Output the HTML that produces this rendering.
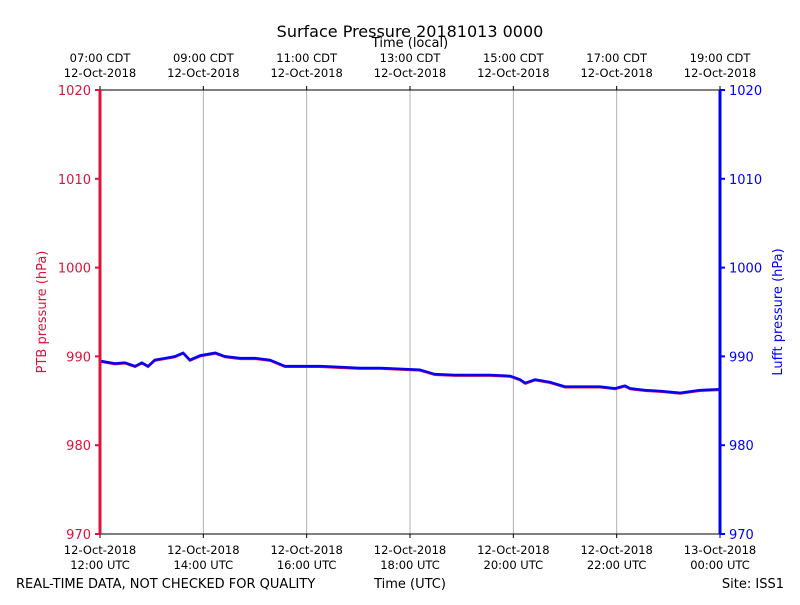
<!DOCTYPE html>
<html><head><meta charset="utf-8"><style>body{margin:0;background:#fff}svg text{font-family:"DejaVu Sans","Liberation Sans",sans-serif}</style></head>
<body>
<svg id="chart" width="800" height="600">
<text x="410" y="37" font-size="16" text-anchor="middle">Surface Pressure 20181013 0000</text>
<text x="410" y="47" font-size="13" text-anchor="middle">Time (local)</text>
<text x="16" y="588" font-size="13">REAL-TIME DATA, NOT CHECKED FOR QUALITY</text>
<text x="410" y="588" font-size="13" text-anchor="middle">Time (UTC)</text>
<text x="784" y="588" font-size="13" text-anchor="end">Site: ISS1</text>
<text transform="translate(46,312) rotate(-90)" font-size="13" fill="#dc143c" text-anchor="middle">PTB pressure (hPa)</text>
<text transform="translate(782,312) rotate(-90)" font-size="13" fill="#0000ff" text-anchor="middle">Lufft pressure (hPa)</text>
<g id="grid"></g><g id="ticks"></g><g id="series"></g>
<line x1="100" y1="90" x2="720" y2="90" stroke="#000"/>
<line x1="100" y1="534" x2="720" y2="534" stroke="#000"/>
<line x1="100" y1="90" x2="100" y2="534" stroke="#dc143c" stroke-width="3"/>
<line x1="720" y1="90" x2="720" y2="534" stroke="#0000ff" stroke-width="3"/>
</svg>
<script>
const hours=[0,.29,.48,.68,.81,.93,1.06,1.26,1.45,1.61,1.74,1.94,2.23,2.42,2.71,3.0,3.29,3.58,3.87,4.26,4.64,5.03,5.42,5.81,6.19,6.48,6.87,7.16,7.55,7.94,8.13,8.23,8.42,8.71,9.0,9.29,9.68,9.97,10.16,10.26,10.55,10.84,11.23,11.61,12];
const lufft=[989.5,989.2,989.3,988.9,989.3,988.9,989.6,989.8,990.0,990.4,989.6,990.1,990.4,990.0,989.8,989.8,989.6,988.9,988.9,988.9,988.8,988.7,988.7,988.6,988.5,988.0,987.9,987.9,987.9,987.8,987.4,987.0,987.4,987.1,986.6,986.6,986.6,986.4,986.7,986.4,986.2,986.1,985.9,986.2,986.3];
const ptb=[989.4,989.1,989.2,988.8,989.2,988.8,989.5,989.7,989.9,990.3,989.5,990.0,990.3,989.9,989.7,989.7,989.5,988.8,988.8,988.8,988.7,988.6,988.6,988.5,988.4,987.9,987.8,987.8,987.8,987.7,987.3,986.9,987.3,987.0,986.5,986.5,986.5,986.3,986.6,986.3,986.1,986.0,985.8,986.1,986.2];
const yTicks=[970,980,990,1000,1010,1020];
const tickHours=[0,2,4,6,8,10,12];
const utcLabels=["12:00 UTC","14:00 UTC","16:00 UTC","18:00 UTC","20:00 UTC","22:00 UTC","00:00 UTC"];
const utcDates=["12-Oct-2018","12-Oct-2018","12-Oct-2018","12-Oct-2018","12-Oct-2018","12-Oct-2018","13-Oct-2018"];
const cdtLabels=["07:00 CDT","09:00 CDT","11:00 CDT","13:00 CDT","15:00 CDT","17:00 CDT","19:00 CDT"];
const cdtDates=["12-Oct-2018","12-Oct-2018","12-Oct-2018","12-Oct-2018","12-Oct-2018","12-Oct-2018","12-Oct-2018"];
const X=h=>100+h*620/12, Y=p=>534-(p-970)*444/50;
const NS="http://www.w3.org/2000/svg";
function mk(tag,attrs,parent,txt){const e=document.createElementNS(NS,tag);for(const k in attrs)e.setAttribute(k,attrs[k]);if(txt!==undefined)e.textContent=txt;document.getElementById(parent).appendChild(e);return e;}
tickHours.forEach((h,i)=>{const x=X(h);
 if(i>0&&i<tickHours.length-1){const g=mk('line',{x1:x,x2:x,y1:90,y2:534,stroke:'#b0b0b0','stroke-width':1},'grid');
 
 }
 mk('line',{x1:x,x2:x,y1:534,y2:538,stroke:'#000'},'ticks');
 mk('line',{x1:x,x2:x,y1:86,y2:90,stroke:'#000'},'ticks');
 const a=mk('text',{x:x,y:554,'font-size':11.5,'text-anchor':'middle'},'ticks',utcDates[i]);
 
 
 const b=mk('text',{x:x,y:569,'font-size':11.5,'text-anchor':'middle'},'ticks',utcLabels[i]);
 
 
 const c=mk('text',{x:x,y:62,'font-size':11.5,'text-anchor':'middle'},'ticks',cdtLabels[i]);
 
 
 const d=mk('text',{x:x,y:77,'font-size':11.5,'text-anchor':'middle'},'ticks',cdtDates[i]);
 
 
});
yTicks.forEach(v=>{const y=Y(v);
 mk('line',{x1:95,x2:100,y1:y,y2:y,stroke:'#dc143c','stroke-width':2},'ticks');
 mk('line',{x1:720,x2:725,y1:y,y2:y,stroke:'#0000ff','stroke-width':2},'ticks');
 const l=mk('text',{x:91,y:y+5,'font-size':13,'text-anchor':'end',fill:'#dc143c'},'ticks',v);
 
 
 const r=mk('text',{x:729,y:y+5,'font-size':13,fill:'#0000ff'},'ticks',v);
 
 
});
const p1=mk('polyline',{points:hours.map((h,i)=>X(h)+','+Y(ptb[i])).join(' '),fill:'none',stroke:'#dc143c','stroke-width':2},'series');


const p2=mk('polyline',{points:hours.map((h,i)=>X(h)+','+Y(lufft[i])).join(' '),fill:'none',stroke:'#0000ff','stroke-width':2.5},'series');


</script>
</body></html>
